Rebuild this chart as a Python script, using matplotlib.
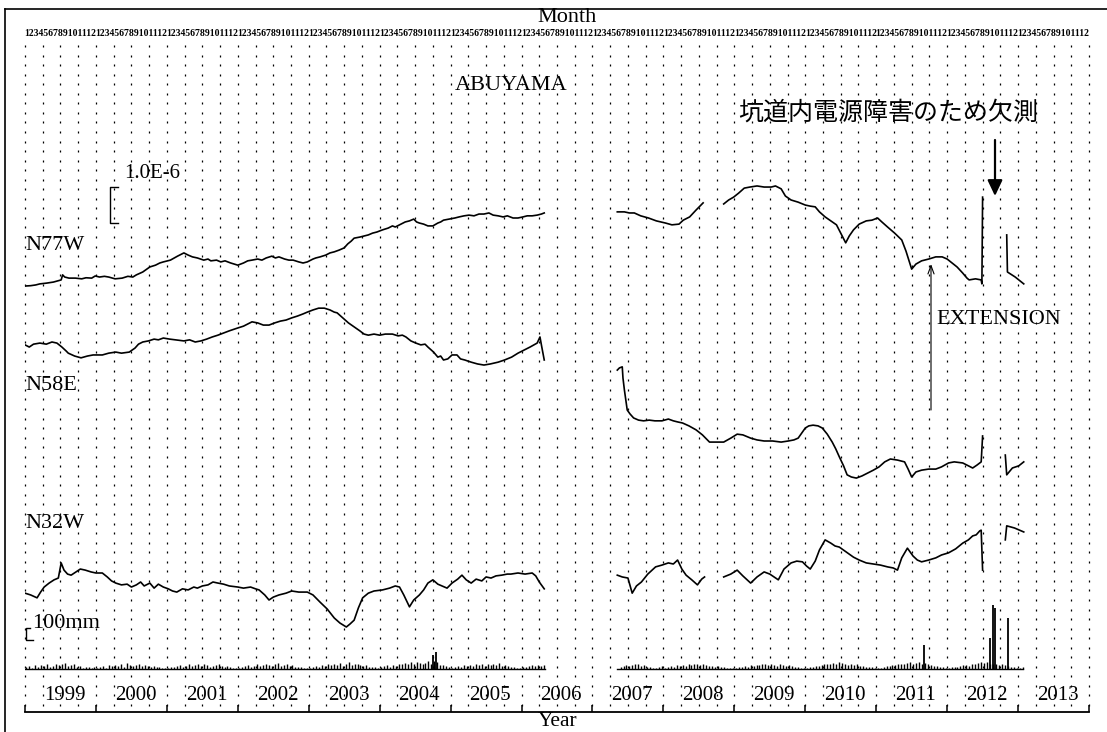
import numpy as np
import matplotlib
matplotlib.use("Agg")
import matplotlib.pyplot as plt
from matplotlib.lines import Line2D

plt.rcParams['font.family'] = ['Liberation Serif', 'DejaVu Serif']

# ---------------- data (strain in 1e-6, relative; rain in mm) ----------------
nan = np.nan
n77w_t = [1999.00, 1999.08, 1999.15, 1999.21, 1999.30, 1999.40, 1999.51, 1999.53, 1999.56, 1999.62,
          1999.71, 1999.80, 1999.86, 1999.94, 1999.99, 2000.05, 2000.12, 2000.18, 2000.27, 2000.37,
          2000.45, 2000.52, 2000.57, 2000.66, 2000.76, 2000.84, 2000.90, 2000.95, 2001.05, 2001.15,
          2001.24, 2001.30, 2001.36, 2001.43, 2001.52, 2001.58, 2001.62, 2001.70, 2001.76, 2001.82,
          2001.90, 2002.00, 2002.08, 2002.14, 2002.20, 2002.28, 2002.34, 2002.40, 2002.48, 2002.53,
          2002.58, 2002.66, 2002.72, 2002.78, 2002.86, 2002.92, 2002.98, 2003.06, 2003.10, 2003.16,
          2003.24, 2003.30, 2003.36, 2003.43, 2003.50, 2003.55, 2003.60, 2003.64, 2003.72, 2003.78,
          2003.84, 2003.90, 2003.96, 2004.04, 2004.12, 2004.18, 2004.22, 2004.30, 2004.36, 2004.42,
          2004.48, 2004.52, 2004.56, 2004.62, 2004.68, 2004.75, 2004.82, 2004.86, 2004.90, 2004.98,
          2005.06, 2005.12, 2005.19, 2005.26, 2005.33, 2005.40, 2005.47, 2005.54, 2005.60, 2005.67,
          2005.74, 2005.80, 2005.88, 2005.95, 2006.02, 2006.08, 2006.15, 2006.22, 2006.28, 2006.32, nan,
          2007.35, 2007.45, 2007.52, 2007.59, 2007.68, 2007.79, 2007.90, 2008.03, 2008.12, 2008.22,
          2008.28, 2008.37, 2008.46, 2008.56, nan,
          2008.85, 2008.92, 2008.99, 2009.06, 2009.14, 2009.22, 2009.32, 2009.42, 2009.52, 2009.58,
          2009.66, 2009.72, 2009.80, 2009.90, 2010.00, 2010.07, 2010.14, 2010.20, 2010.28, 2010.36,
          2010.44, 2010.50, 2010.57, 2010.62, 2010.68, 2010.76, 2010.86, 2010.94, 2011.02, 2011.08,
          2011.16, 2011.26, 2011.36, 2011.42, 2011.50, 2011.56, 2011.64, 2011.74, 2011.84, 2011.93,
          2012.00, 2012.07, 2012.14, 2012.22, 2012.28, 2012.31, 2012.40, 2012.48, 2012.49, 2012.50, nan,
          2012.84, 2012.85, 2012.96, 2013.08]
n77w_v = [0.11, 0.12, 0.14, 0.17, 0.19, 0.22, 0.28, 0.42, 0.36, 0.33,
          0.33, 0.31, 0.34, 0.33, 0.39, 0.36, 0.38, 0.36, 0.31, 0.33,
          0.38, 0.36, 0.42, 0.50, 0.64, 0.69, 0.75, 0.78, 0.83, 0.94,
          1.03, 0.97, 0.92, 0.89, 0.83, 0.86, 0.81, 0.83, 0.78, 0.81,
          0.75, 0.69, 0.75, 0.81, 0.83, 0.86, 0.83, 0.89, 0.94, 0.89,
          0.92, 0.86, 0.83, 0.83, 0.78, 0.75, 0.78, 0.86, 0.89, 0.92,
          0.97, 1.03, 1.06, 1.11, 1.17, 1.28, 1.36, 1.44, 1.47, 1.50,
          1.53, 1.58, 1.61, 1.67, 1.72, 1.78, 1.75, 1.83, 1.89, 1.92,
          1.97, 1.89, 1.86, 1.83, 1.78, 1.78, 1.86, 1.89, 1.94, 1.97,
          2.00, 2.03, 2.06, 2.08, 2.06, 2.11, 2.11, 2.14, 2.08, 2.06,
          2.03, 2.06, 2.00, 2.00, 2.03, 2.06, 2.06, 2.08, 2.11, 2.14, nan,
          2.17, 2.17, 2.14, 2.14, 2.06, 2.00, 1.92, 1.86, 1.81, 1.83,
          1.94, 2.03, 2.22, 2.42, nan,
          2.39, 2.50, 2.58, 2.69, 2.83, 2.86, 2.89, 2.86, 2.86, 2.89,
          2.81, 2.61, 2.50, 2.44, 2.36, 2.33, 2.31, 2.17, 2.03, 1.92,
          1.81, 1.58, 1.31, 1.50, 1.67, 1.83, 1.92, 1.94, 2.00, 1.89,
          1.75, 1.58, 1.39, 1.08, 0.58, 0.72, 0.81, 0.86, 0.92, 0.92,
          0.86, 0.75, 0.64, 0.47, 0.33, 0.28, 0.31, 0.28, 0.17, 2.58, nan,
          1.53, 0.50, 0.36, 0.17]

n58e_t = [1999.00, 1999.06, 1999.12, 1999.21, 1999.30, 1999.38, 1999.45, 1999.52, 1999.58, 1999.61,
          1999.70, 1999.79, 1999.88, 1999.96, 2000.09, 2000.18, 2000.28, 2000.36, 2000.47, 2000.55,
          2000.60, 2000.66, 2000.74, 2000.82, 2000.88, 2000.95, 2001.04, 2001.12, 2001.24, 2001.32,
          2001.40, 2001.48, 2001.56, 2001.64, 2001.72, 2001.80, 2001.88, 2002.00, 2002.08, 2002.14,
          2002.20, 2002.28, 2002.36, 2002.44, 2002.52, 2002.60, 2002.68, 2002.76, 2002.84, 2002.92,
          2002.98, 2003.06, 2003.14, 2003.22, 2003.30, 2003.36, 2003.40, 2003.48, 2003.56, 2003.64,
          2003.72, 2003.78, 2003.84, 2003.92, 2004.00, 2004.08, 2004.18, 2004.26, 2004.32, 2004.37,
          2004.44, 2004.51, 2004.58, 2004.64, 2004.68, 2004.76, 2004.82, 2004.86, 2004.90, 2004.96,
          2005.02, 2005.09, 2005.14, 2005.20, 2005.29, 2005.38, 2005.47, 2005.56, 2005.67, 2005.76,
          2005.86, 2005.95, 2006.04, 2006.12, 2006.22, 2006.26, 2006.28, 2006.32, nan,
          2007.35, 2007.38, 2007.42, 2007.43, 2007.45, 2007.47, 2007.49, 2007.53, 2007.58, 2007.65,
          2007.72, 2007.80, 2007.88, 2007.98, 2008.07, 2008.14, 2008.20, 2008.27, 2008.36, 2008.46,
          2008.55, 2008.65, 2008.75, 2008.85, 2008.95, 2009.04, 2009.12, 2009.23, 2009.32, 2009.42,
          2009.54, 2009.66, 2009.76, 2009.84, 2009.90, 2009.95, 2010.00, 2010.05, 2010.11, 2010.18,
          2010.24, 2010.31, 2010.38, 2010.43, 2010.48, 2010.54, 2010.59, 2010.65, 2010.72, 2010.80,
          2010.88, 2010.96, 2011.04, 2011.12, 2011.20, 2011.30, 2011.40, 2011.45, 2011.50, 2011.56,
          2011.64, 2011.74, 2011.84, 2011.92, 2012.02, 2012.10, 2012.22, 2012.30, 2012.36, 2012.42,
          2012.48, 2012.50, nan,
          2012.82, 2012.84, 2012.92, 2013.01, 2013.08]
n58e_v = [0.42, 0.36, 0.44, 0.47, 0.44, 0.50, 0.47, 0.36, 0.25, 0.19,
          0.11, 0.06, 0.11, 0.14, 0.14, 0.19, 0.22, 0.19, 0.22, 0.33,
          0.44, 0.50, 0.53, 0.58, 0.56, 0.61, 0.58, 0.56, 0.53, 0.56,
          0.50, 0.53, 0.58, 0.64, 0.69, 0.75, 0.81, 0.89, 0.94, 1.00,
          1.06, 1.03, 0.97, 0.97, 1.03, 1.08, 1.11, 1.17, 1.22, 1.28,
          1.33, 1.39, 1.44, 1.44, 1.39, 1.33, 1.31, 1.17, 1.03, 0.92,
          0.81, 0.72, 0.69, 0.72, 0.69, 0.72, 0.72, 0.67, 0.69, 0.64,
          0.53, 0.47, 0.42, 0.44, 0.36, 0.22, 0.08, 0.11, 0.00, 0.03,
          0.14, 0.14, 0.03, 0.00, -0.06, -0.11, -0.14, -0.11, -0.06, 0.00,
          0.08, 0.19, 0.28, 0.36, 0.47, 0.64, 0.42, 0.00, nan,
          -0.28, -0.22, -0.19, -0.50, -0.83, -1.11, -1.39, -1.50, -1.61, -1.67,
          -1.69, -1.67, -1.69, -1.69, -1.64, -1.69, -1.72, -1.75, -1.83, -1.94,
          -2.08, -2.28, -2.28, -2.28, -2.17, -2.06, -2.08, -2.17, -2.22, -2.25,
          -2.25, -2.28, -2.25, -2.22, -2.17, -2.03, -1.89, -1.83, -1.81, -1.83,
          -1.89, -2.06, -2.28, -2.47, -2.69, -2.94, -3.19, -3.25, -3.28, -3.22,
          -3.14, -3.06, -2.97, -2.83, -2.75, -2.78, -2.83, -3.03, -3.25, -3.11,
          -3.06, -3.03, -3.03, -2.97, -2.86, -2.83, -2.86, -2.94, -3.00, -2.92,
          -2.83, -2.11, nan,
          -2.64, -3.19, -3.00, -2.94, -2.83]

n32w_t = [1999.00, 1999.08, 1999.17, 1999.22, 1999.27, 1999.34, 1999.41, 1999.47, 1999.51, 1999.55,
          1999.60, 1999.65, 1999.72, 1999.78, 1999.85, 1999.93, 2000.00, 2000.09, 2000.16, 2000.22,
          2000.28, 2000.36, 2000.44, 2000.50, 2000.57, 2000.63, 2000.68, 2000.76, 2000.82, 2000.88,
          2000.95, 2001.02, 2001.08, 2001.14, 2001.22, 2001.30, 2001.38, 2001.43, 2001.50, 2001.58,
          2001.65, 2001.72, 2001.80, 2001.88, 2002.00, 2002.08, 2002.18, 2002.25, 2002.30, 2002.38,
          2002.44, 2002.50, 2002.58, 2002.68, 2002.76, 2002.86, 2002.98, 2003.06, 2003.16, 2003.26,
          2003.36, 2003.44, 2003.53, 2003.58, 2003.64, 2003.70, 2003.76, 2003.84, 2003.92, 2004.04,
          2004.14, 2004.22, 2004.28, 2004.34, 2004.42, 2004.48, 2004.56, 2004.62, 2004.68, 2004.75,
          2004.82, 2004.88, 2004.95, 2005.02, 2005.10, 2005.16, 2005.22, 2005.29, 2005.36, 2005.44,
          2005.50, 2005.57, 2005.64, 2005.72, 2005.80, 2005.85, 2005.95, 2006.05, 2006.15, 2006.20,
          2006.25, 2006.32, nan,
          2007.35, 2007.42, 2007.50, 2007.56, 2007.62, 2007.69, 2007.78, 2007.89, 2007.98, 2008.07,
          2008.14, 2008.20, 2008.26, 2008.32, 2008.40, 2008.48, 2008.54, 2008.58, nan,
          2008.85, 2008.95, 2009.04, 2009.12, 2009.23, 2009.32, 2009.42, 2009.50, 2009.56, 2009.62,
          2009.70, 2009.80, 2009.88, 2009.96, 2010.02, 2010.07, 2010.14, 2010.20, 2010.28, 2010.36,
          2010.42, 2010.48, 2010.58, 2010.68, 2010.76, 2010.86, 2010.96, 2011.06, 2011.16, 2011.24,
          2011.30, 2011.36, 2011.44, 2011.52, 2011.58, 2011.64, 2011.74, 2011.84, 2011.92, 2012.02,
          2012.12, 2012.22, 2012.30, 2012.36, 2012.41, 2012.46, 2012.48, 2012.50, nan,
          2012.82, 2012.84, 2012.95, 2013.08]
n32w_v = [0.19, 0.14, 0.06, 0.22, 0.36, 0.47, 0.56, 0.61, 1.03, 0.83,
          0.72, 0.69, 0.78, 0.86, 0.83, 0.78, 0.75, 0.75, 0.64, 0.53,
          0.47, 0.42, 0.44, 0.36, 0.42, 0.50, 0.39, 0.47, 0.33, 0.44,
          0.36, 0.31, 0.25, 0.22, 0.31, 0.28, 0.36, 0.33, 0.39, 0.42,
          0.50, 0.47, 0.44, 0.39, 0.36, 0.33, 0.36, 0.31, 0.28, 0.14,
          0.00, 0.08, 0.14, 0.19, 0.25, 0.22, 0.22, 0.14, -0.06, -0.25,
          -0.50, -0.64, -0.75, -0.67, -0.56, -0.22, 0.06, 0.19, 0.25, 0.28,
          0.33, 0.39, 0.36, 0.14, -0.19, 0.00, 0.14, 0.28, 0.47, 0.56,
          0.44, 0.39, 0.33, 0.47, 0.58, 0.69, 0.56, 0.47, 0.58, 0.53,
          0.64, 0.61, 0.67, 0.69, 0.72, 0.72, 0.75, 0.72, 0.75, 0.67,
          0.50, 0.31, nan,
          0.69, 0.64, 0.61, 0.19, 0.39, 0.50, 0.72, 0.92, 0.97, 1.03,
          1.00, 1.11, 0.86, 0.69, 0.56, 0.42, 0.58, 0.64, nan,
          0.64, 0.72, 0.83, 0.67, 0.47, 0.64, 0.78, 0.72, 0.64, 0.56,
          0.86, 1.03, 1.08, 1.06, 0.94, 0.86, 1.08, 1.39, 1.67, 1.58,
          1.50, 1.47, 1.33, 1.19, 1.11, 1.03, 1.00, 0.97, 0.92, 0.89,
          0.83, 1.17, 1.44, 1.22, 1.11, 1.06, 1.11, 1.17, 1.25, 1.31,
          1.42, 1.58, 1.67, 1.78, 1.81, 1.92, 1.94, 0.83, nan,
          1.67, 2.06, 2.00, 1.89]

# semi-monthly rainfall (mm)
rain_1999 = [15, 22, 10, 30, 18, 35, 25, 40, 20, 28, 45, 32, 38, 50, 22, 30, 42, 18, 25, 12, 20, 15, 10, 14]
rain_2000 = [10, 18, 25, 12, 30, 22, 35, 28, 40, 20, 48, 30, 26, 35, 45, 22, 30, 25, 18, 28, 15, 20, 12, 8]
rain_2001 = [12, 20, 15, 25, 35, 18, 28, 40, 22, 30, 38, 25, 45, 32, 20, 28, 35, 40, 22, 18, 25, 15, 10, 12]
rain_2002 = [8, 15, 22, 30, 18, 25, 40, 28, 35, 45, 30, 22, 38, 50, 28, 35, 42, 25, 30, 20, 18, 15, 12, 10]
rain_2003 = [10, 20, 28, 15, 32, 25, 38, 30, 45, 35, 50, 28, 40, 55, 32, 38, 45, 30, 25, 35, 20, 15, 18, 12]
rain_2004 = [15, 22, 30, 20, 35, 28, 45, 40, 50, 38, 60, 45, 55, 48, 40, 52, 65, 45, 70, 55, 35, 30, 22, 18]
rain_2005 = [12, 18, 25, 20, 30, 22, 35, 28, 42, 30, 38, 25, 45, 35, 40, 30, 48, 28, 35, 22, 18, 15, 10, 12]
rain_2006 = [15, 20, 25, 30, 22, 35, 28, 32]
rain_2007 = [20, 28, 35, 22, 30, 45, 38, 25, 30, 20, 15, 12, 10, 18, 22]
rain_2008 = [10, 15, 22, 18, 30, 25, 35, 28, 40, 32, 45, 38, 30, 42, 35, 28, 25, 20, 22, 18, 15, 12, 10, 8]
rain_2009 = [12, 18, 15, 25, 20, 30, 28, 35, 32, 40, 38, 30, 45, 35, 28, 40, 32, 25, 30, 22, 18, 15, 12, 10]
rain_2010 = [10, 15, 20, 28, 25, 35, 40, 45, 38, 50, 42, 55, 48, 40, 35, 45, 30, 38, 28, 25, 20, 18, 15, 12]
rain_2011 = [8, 12, 18, 22, 28, 35, 30, 40, 45, 38, 50, 55, 42, 48, 60, 45, 52, 40, 35, 28, 22, 18, 15, 10]
rain_2012 = [10, 15, 20, 18, 25, 30, 35, 28, 40, 45, 50, 55, 48, 60, 45, 40, 38, 30, 42, 35, 25, 20, 15, 12]
rain_2013 = [10, 14]
rain_first_halfmonth = {2007: 9}
rain_peak_t = [2004.75, 2004.80, 2011.68, 2012.61, 2012.64, 2012.68, 2012.86]
rain_peak_mm = [120, 140, 200, 260, 530, 505, 425]
rain_periods = [(1999.0, 2006.33), (2007.35, 2013.07)]

years = list(range(1999, 2014))
month_labels = "123456789101112"

# ---------------- layout ----------------
W, H = 1107, 732
fig = plt.figure(figsize=(W / 100, H / 100), dpi=100)
X0, X1, YB, YT = 25, 1089, 712, 40
ax = fig.add_axes([X0 / W, (H - YB) / H, (X1 - X0) / W, (YB - YT) / H])
PX_PER_YEAR = (X1 - X0) / 15.0
PX_PER_UNIT = 36.0
ax.set_xlim(1999, 2014)
ax.set_ylim(0, (YB - YT) / PX_PER_UNIT)
ax.axis('off')


def X(px):
    return 1999 + (px - X0) / PX_PER_YEAR


def Y(py):
    return (YB - py) / PX_PER_UNIT


# dotted grid: quarter-year columns
dot_y = np.arange(Y(705), Y(46) + 0.01, 9.55 / PX_PER_UNIT)
for q in np.arange(1999, 2014.001, 0.25):
    ax.plot(np.full_like(dot_y, q), dot_y, ls='none', marker='|', ms=2.0, mew=0.9,
            color='black', clip_on=False)

# traces
off_n77w, off_n58e, off_n32w, off_rain = Y(290), Y(360), Y(600), Y(669)
lw = 1.2
ax.plot(n77w_t, np.array(n77w_v) + off_n77w, color='black', lw=lw)
ax.plot(n58e_t, np.array(n58e_v) + off_n58e, color='black', lw=lw)
ax.plot(n32w_t, np.array(n32w_v) + off_n32w, color='black', lw=lw)

# rain
MM = (1.0 / 3.0) / 100.0  # 100 mm -> 1/3 unit
for yr, vals in [(1999, rain_1999), (2000, rain_2000), (2001, rain_2001), (2002, rain_2002),
                 (2003, rain_2003), (2004, rain_2004), (2005, rain_2005), (2006, rain_2006),
                 (2007, rain_2007), (2008, rain_2008), (2009, rain_2009), (2010, rain_2010),
                 (2011, rain_2011), (2012, rain_2012), (2013, rain_2013)]:
    s = rain_first_halfmonth.get(yr, 0)
    t = yr + (s + np.arange(len(vals)) + 0.5) / 24.0
    ax.vlines(t, off_rain, off_rain + np.array(vals) * MM, color='black', lw=1.0)
ax.vlines(rain_peak_t, off_rain, off_rain + np.array(rain_peak_mm) * MM, color='black', lw=1.3)
for a, b in rain_periods:
    ax.plot([a, b], [off_rain, off_rain], color='black', lw=1.0)

# scale bars
ax.plot([X(118), X(110), X(110), X(118)], [Y(187), Y(187), Y(223), Y(223)], color='black', lw=1.0)
ax.text(X(124), Y(173), "1.0E-6", fontsize=15, ha='left', va='center')
ax.plot([X(30), X(26), X(26), X(33)], [Y(628), Y(628), Y(640), Y(640)], color='black', lw=1.0)
ax.text(X(32), Y(624), "100mm", fontsize=16, ha='left', va='center')

# labels
ax.text(X(25), Y(246), "N77W", fontsize=16, ha='left', va='center')
ax.text(X(25), Y(386), "N58E", fontsize=16, ha='left', va='center')
ax.text(X(25), Y(524), "N32W", fontsize=16, ha='left', va='center')
ax.text(X(511), Y(86), "ABUYAMA", fontsize=16, ha='center', va='center')
ax.text(X(999), Y(320), "EXTENSION", fontsize=16, ha='center', va='center')
ax.text(X(888), Y(113), "坑道内電源障害のため欠測", fontsize=18, ha='center', va='center',
        family=['Noto Sans CJK JP', 'DejaVu Sans'])

# arrows
ax.annotate('', xy=(X(995), Y(196)), xytext=(X(995), Y(140)),
            arrowprops=dict(arrowstyle='-|>,head_length=0.95,head_width=0.45',
                            lw=1.6, color='black', shrinkA=0, shrinkB=0))
ax.annotate('', xy=(X(931), Y(264)), xytext=(X(931), Y(410)),
            arrowprops=dict(arrowstyle='->,head_length=0.6,head_width=0.22',
                            lw=0.8, color='black', shrinkA=0, shrinkB=0))

# month row and year axis
for yr in years:
    ax.text(yr + 0.5, Y(33), month_labels, fontsize=7.0, fontweight='bold',
            ha='center', va='center', clip_on=False)
    ax.text(yr + 0.56, Y(695), str(yr), fontsize=15, ha='center', va='center', clip_on=False)
ax.plot([1999, 2014], [0, 0], color='black', lw=1.3, clip_on=False)
ax.vlines(np.arange(1999, 2015), 0, 7 / PX_PER_UNIT, color='black', lw=1.1, clip_on=False)
fig.text(567 / W, 1 - 18 / H, "Month", fontsize=16, ha='center', va='center')
fig.text(558 / W, 1 - 721 / H, "Year", fontsize=15.5, ha='center', va='center')

# outer frame (left and top edges)
fig.add_artist(Line2D([4.5 / W, 4.5 / W], [0, 1 - 9 / H], transform=fig.transFigure, color='black', lw=1.2))
fig.add_artist(Line2D([4.5 / W, 1], [1 - 9 / H, 1 - 9 / H], transform=fig.transFigure, color='black', lw=1.2))

fig.savefig("out.png", dpi=100, facecolor='white')
